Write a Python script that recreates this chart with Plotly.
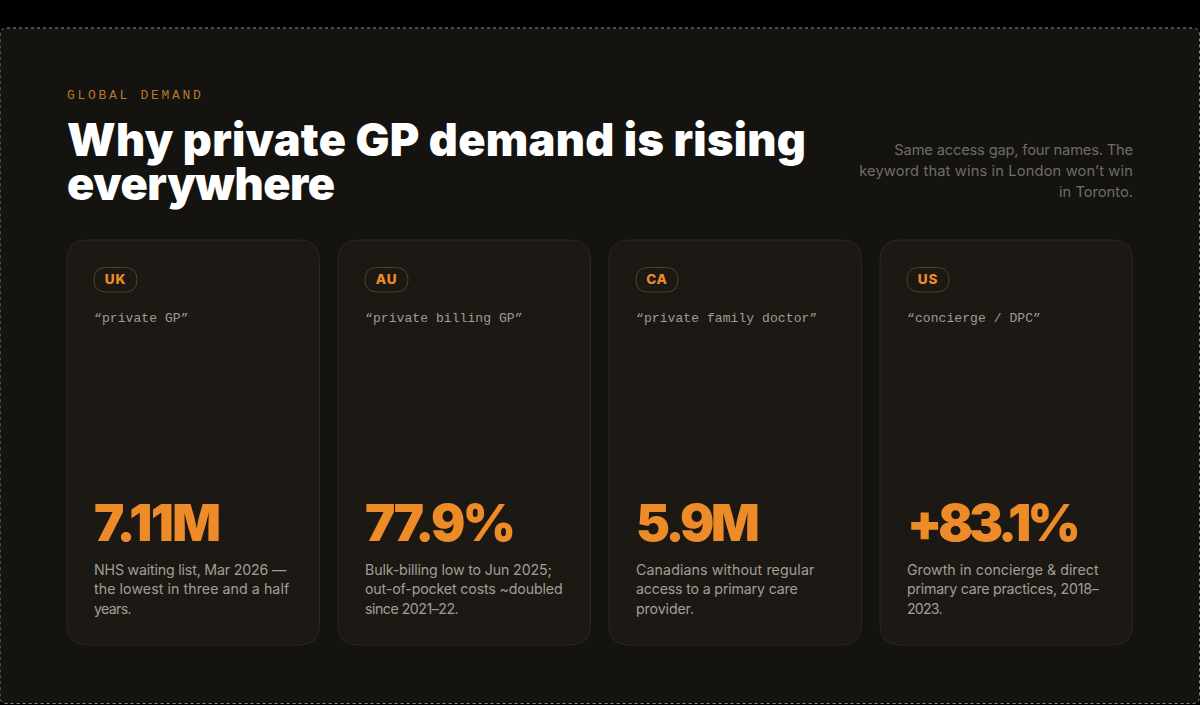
import json
import plotly.graph_objects as go

eyebrow = "GLOBAL DEMAND"
title_lines = ["Why private GP demand is rising", "everywhere"]
side_lines = ["Same access gap, four names. The", "keyword that wins in London won’t win", "in Toronto."]
countries = ["UK", "AU", "CA", "US"]
keywords = ["“private GP”", "“private billing GP”", "“private family doctor”", "“concierge / DPC”"]
stats = ["7.11M", "77.9%", "5.9M", "+83.1%"]
descriptions = [
    ["NHS waiting list, Mar 2026 —", "the lowest in three and a half", "years."],
    ["Bulk-billing low to Jun 2025;", "out-of-pocket costs ~doubled", "since 2021–22."],
    ["Canadians without regular", "access to a primary care", "provider."],
    ["Growth in concierge & direct", "primary care practices, 2018–", "2023."],
]

SANS = "Inter, 'Open Sans', sans-serif"
MONO = "'Liberation Mono', 'DejaVu Sans Mono', monospace"
ORANGE = "#ec8b27"

card_left = [67, 338, 609, 880]
card_w = 252.5
card_top, card_bottom = 240, 645
pill_w = [43, 43, 42, 42]


def rounded(x0, y0, x1, y1, r):
    return (f"M{x0+r},{y0} L{x1-r},{y0} Q{x1},{y0} {x1},{y0+r} L{x1},{y1-r} Q{x1},{y1} {x1-r},{y1} "
            f"L{x0+r},{y1} Q{x0},{y1} {x0},{y1-r} L{x0},{y0+r} Q{x0},{y0} {x0+r},{y0} Z")


shapes = [dict(type="path", path=rounded(0, 28, 1199.5, 703.5, 7), fillcolor="#141310",
               line=dict(color="#8a8a8a", width=1, dash="dot"), layer="below")]
for i, left in enumerate(card_left):
    shapes.append(dict(type="path", path=rounded(left, card_top, left + card_w, card_bottom, 20),
                       fillcolor="#1c1915", line=dict(color="#2a2723", width=1), layer="below"))
    shapes.append(dict(type="path", path=rounded(left + 27, 267.5, left + 27 + pill_w[i], 292, 12.2),
                       fillcolor="#1c1915", line=dict(color="#54412b", width=1), layer="below"))

fig = go.Figure()


def add_text(xs, ys, texts, pos, family, size, color, weight=400):
    fig.add_trace(go.Scatter(x=xs, y=ys, text=texts, mode="text", textposition=pos, hoverinfo="skip",
                             showlegend=False,
                             textfont=dict(family=family, size=size, color=color, weight=weight)))


add_text([67], [95.5], [eyebrow], "middle right", MONO, 13, "#b9772c")
add_text([67, 67], [145, 189], title_lines, "middle right", SANS, 45, "#ffffff", 900)
add_text([1133] * 3, [151, 172, 193], side_lines, "middle left", SANS, 14.7, "#6f6c66")
add_text([c + 27 + w / 2 for c, w in zip(card_left, pill_w)], [281] * 4, countries, "middle center",
         SANS, 13.5, ORANGE, 800)
add_text([c + 27 for c in card_left], [319] * 4, keywords, "middle right", MONO, 13, "#a09b90")
add_text([c + 27 for c in card_left], [528] * 4, stats, "middle right", SANS, 51, ORANGE, 900)
for row, y in enumerate([571, 590.5, 610]):
    add_text([c + 27 for c in card_left], [y] * 4, [d[row] for d in descriptions], "middle right",
             SANS, 14.2, "#a39e95")

fig.update_layout(
    width=1200, height=705, margin=dict(l=0, r=0, t=0, b=0), showlegend=False,
    paper_bgcolor="#000000", plot_bgcolor="#000000", shapes=shapes,
    xaxis=dict(range=[0, 1200], visible=False, fixedrange=True),
    yaxis=dict(range=[705, 0], visible=False, fixedrange=True),
)

spacing = {eyebrow: 2.7, "UK": 0.8, "AU": 0.8, "CA": 0.8, "US": 0.8,
           title_lines[0]: 0.3, title_lines[1]: -0.4,
           stats[0]: -1.5, stats[1]: -2.5, stats[2]: -3.5, stats[3]: -4,
           side_lines[0]: -0.18, side_lines[1]: 0.13,
           keywords[0]: 0.08, keywords[1]: 0.08, keywords[2]: 0.08, keywords[3]: 0.08}
# nudge the description lines to the widths in the picture
width_diff = [[-5, 2, -4], [-4, -4, -7], [3, -4, -1], [1, -7, -4]]
for lines, diffs in zip(descriptions, width_diff):
    for line, d in zip(lines, diffs):
        spacing[line] = d / len(line)

script = """
document.body.style.margin = '0';
document.body.style.background = '#000';
var sp = %s;
document.querySelectorAll('.textpoint text').forEach(function (t) {
    if (sp[t.textContent] !== undefined) t.style.letterSpacing = sp[t.textContent] + 'px';
});
""" % json.dumps(spacing)

fig.write_html("out.html", post_script=script, config=dict(displayModeBar=False))
